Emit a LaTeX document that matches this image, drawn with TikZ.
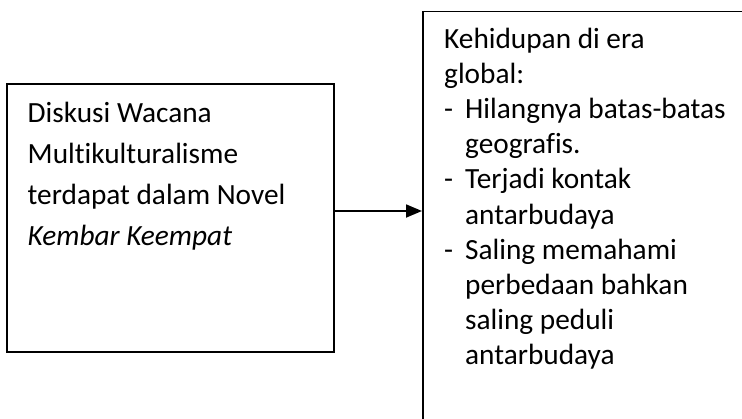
\documentclass[tikz,border=0pt]{standalone}
\usepackage{fontspec}
\setmainfont{Carlito}[Ligatures=CommonOff]
\usetikzlibrary{arrows.meta}
\begin{document}
\begin{tikzpicture}[x=1pt,y=-1pt,
  boxstyle/.style={draw,line width=1.8pt,rectangle,inner sep=0pt,anchor=north west},
  txt/.style={anchor=base west,inner sep=0pt,font=\fontsize{29.3}{35}\selectfont},
  conn/.style={line width=1.8pt,-{Triangle[length=16pt,width=13pt]}}]
\useasboundingbox (0,0) rectangle (742,418);
\clip (0,0) rectangle (742,418);
\fill[white] (0,0) rectangle (742,418);
% boxes
\node[boxstyle,minimum width=327pt,minimum height=268pt] (leftbox) at (6,83) {};
\node[boxstyle,minimum width=400pt,minimum height=500pt] (rightbox) at (422,10.5) {};
% left text
\node[txt] (l1) at (27.5,122) {Diskusi Wacana};
\node[txt] (l2) at (27.5,163) {Multikulturalisme};
\node[txt] (l3) at (27.5,204) {terdapat dalam Novel};
\node[txt] (l4) at (27.5,245.5) {\itshape Kembar Keempat};
% right text
\node[txt] (r1) at (444,48) {Kehidupan di era};
\node[txt] (r2) at (444,83.2) {global:};
\node[txt] (r3) at (444,118.4) {\makebox[21pt][l]{-}Hilangnya batas-batas};
\node[txt] (r4) at (465,153.6) {geografis.};
\node[txt] (r5) at (444,188.8) {\makebox[21pt][l]{-}Terjadi kontak};
\node[txt] (r6) at (465,224) {antarbudaya};
\node[txt] (r7) at (444,259.2) {\makebox[21pt][l]{-}Saling memahami};
\node[txt] (r8) at (465,294.4) {perbedaan bahkan};
\node[txt] (r9) at (465,329.6) {saling peduli};
\node[txt] (r10) at (465,364.8) {antarbudaya};
% connector
\coordinate (ay) at (0,211);
\draw[conn] (leftbox.east |- ay) -- (rightbox.west |- ay);
\end{tikzpicture}
\end{document}
